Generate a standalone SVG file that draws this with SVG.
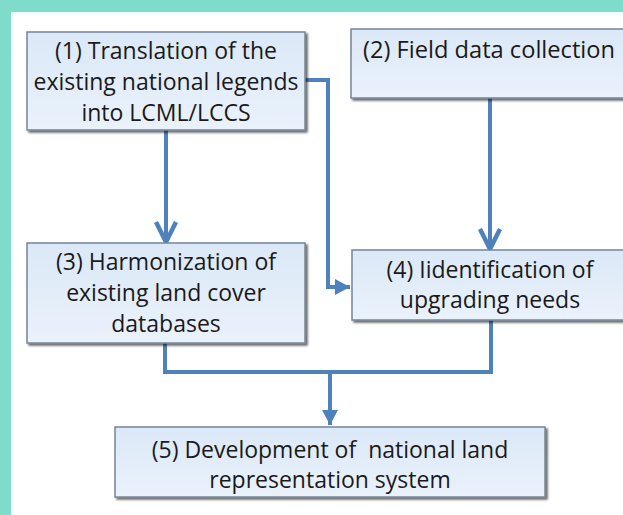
<svg xmlns="http://www.w3.org/2000/svg" width="623" height="515" viewBox="0 0 623 515">
<defs>
<linearGradient id="boxfill" x1="0" y1="0" x2="0" y2="1">
<stop offset="0" stop-color="#dbe8f7"/>
<stop offset="1" stop-color="#eaf2fb"/>
</linearGradient>
<filter id="shadow" x="-5%" y="-5%" width="115%" height="125%">
<feGaussianBlur in="SourceAlpha" stdDeviation="1.2"/>
<feOffset dx="2" dy="2" result="b"/>
<feComponentTransfer><feFuncA type="linear" slope="0.6"/></feComponentTransfer>
<feMerge><feMergeNode/><feMergeNode in="SourceGraphic"/></feMerge>
</filter>
<marker id="vee" markerUnits="userSpaceOnUse" markerWidth="26" markerHeight="26" refX="22" refY="12" orient="auto" viewBox="0 0 26 24">
<path d="M2,2 L22,12 L2,22" fill="none" stroke="#4f81bd" stroke-width="4.5" stroke-linejoin="miter"/>
</marker>
<marker id="tri" markerUnits="userSpaceOnUse" markerWidth="16" markerHeight="18" refX="15" refY="8" orient="auto" viewBox="0 0 16 16">
<path d="M0,0 L15,8 L0,16 Z" fill="#4f81bd"/>
</marker>
</defs>
<style>
.box { fill: url(#boxfill); stroke: #75849a; stroke-width: 1.5; filter: url(#shadow); }
.lbl { font-family: "Open Sans", "Liberation Sans", sans-serif; font-size: 23px; fill: #1a1a1a; text-anchor: middle; white-space: pre; }
.conn { fill: none; stroke: #4f81bd; stroke-width: 4; stroke-linejoin: miter; }
</style>
<rect x="0" y="0" width="623" height="515" fill="#7fdcca"/>
<rect x="11" y="12" width="612" height="503" fill="#f4fcfb"/>
<rect x="14" y="15" width="609" height="500" fill="#ffffff"/>

<g id="connectors">
<path class="conn" d="M305,80 H328 V287 H350" marker-end="url(#tri)"/>
<path class="conn" d="M166,130 V242" marker-end="url(#vee)"/>
<path class="conn" d="M490,98 V249" marker-end="url(#vee)"/>
<path class="conn" d="M165,343 V372 H491 V320"/>
<path class="conn" d="M330,372 V425" marker-end="url(#tri)"/>
</g>

<g id="node1">
<rect class="box" x="27" y="32" width="278" height="98"/>
<text class="lbl" x="166" y="59">(1) Translation of the</text>
<text class="lbl" x="166" y="90">existing national legends</text>
<text class="lbl" x="166" y="121">into LCML/LCCS</text>
</g>
<g id="node2">
<rect class="box" x="351" y="29" width="290" height="69"/>
<text class="lbl" x="363" y="58" style="text-anchor:start" textLength="252" lengthAdjust="spacingAndGlyphs">(2) Field data collection</text>
</g>
<g id="node3">
<rect class="box" x="27" y="243" width="278" height="100"/>
<text class="lbl" x="166" y="270">(3) Harmonization of</text>
<text class="lbl" x="166" y="301">existing land cover</text>
<text class="lbl" x="166" y="332">databases</text>
</g>
<g id="node4">
<rect class="box" x="352" y="250" width="290" height="70"/>
<text class="lbl" x="490" y="278">(4) Iidentification of</text>
<text class="lbl" x="490" y="308">upgrading needs</text>
</g>
<g id="node5">
<rect class="box" x="115" y="427" width="430" height="70"/>
<text class="lbl" x="330" y="458">(5) Development of  national land</text>
<text class="lbl" x="330" y="488">representation system</text>
</g>
</svg>
